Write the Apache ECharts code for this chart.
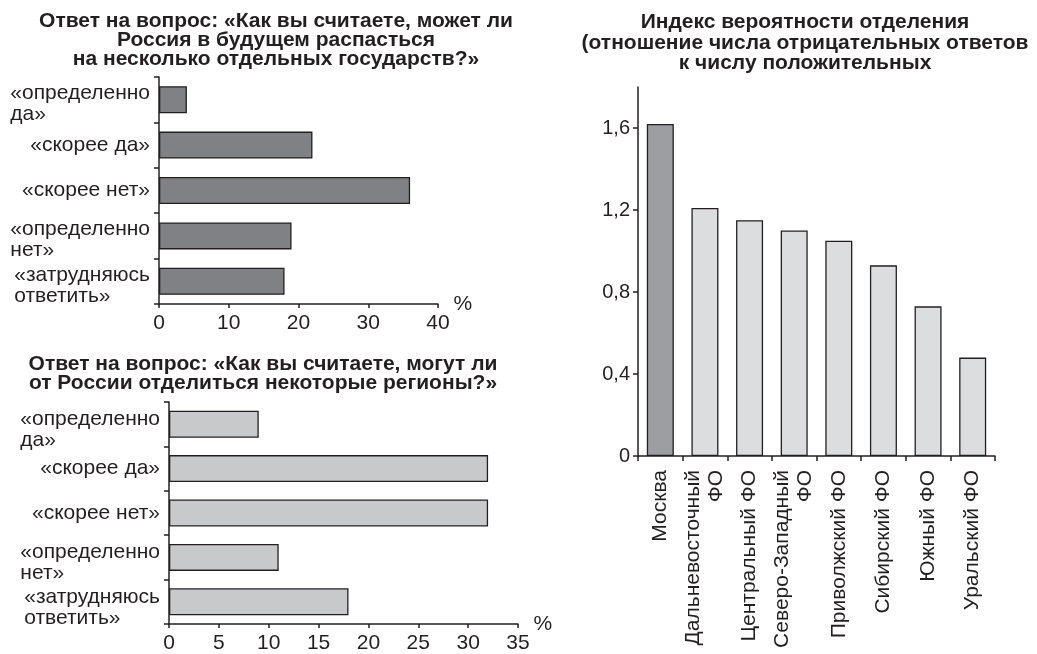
<!DOCTYPE html>
<html>
<head>
<meta charset="utf-8">
<script src="https://cdn.jsdelivr.net/npm/echarts@6/dist/echarts.min.js"></script>
<style>
  html, body { margin: 0; padding: 0; background: #ffffff; }
  #chart { width: 1037px; height: 654px; }
</style>
</head>
<body>
<div id="chart"></div>
<script>
// Survey answer options (shared by both horizontal bar charts)
const answerCategories = [
  '«определенно\nда»',
  '«скорее да»',
  '«скорее нет»',
  '«определенно\nнет»',
  '«затрудняюсь\nответить»'
];
// "Может ли Россия в будущем распасться..." — share of answers, %
const breakupShares = [4, 22, 36, 19, 18];
// "Могут ли от России отделиться некоторые регионы?" — share of answers, %
const secessionShares = [9, 32, 32, 11, 18];

const breakupTicks = [0, 10, 20, 30, 40];
const secessionTicks = [0, 5, 10, 15, 20, 25, 30, 35];

// Separation likelihood index by federal district
const districts = [
  'Москва',
  'Дальневосточный\nФО',
  'Центральный ФО',
  'Северо-Западный\nФО',
  'Приволжский ФО',
  'Сибирский ФО',
  'Южный ФО',
  'Уральский ФО'
];
const separationIndex = [1.62, 1.21, 1.15, 1.10, 1.05, 0.93, 0.73, 0.48];
const indexTicks = [0, 0.4, 0.8, 1.2, 1.6];
const indexTickLabels = ['0', '0,4', '0,8', '1,2', '1,6'];

const INK = '#231f20';
const FONT = '"Liberation Sans", Arial, Helvetica, sans-serif';

const chart = echarts.init(document.getElementById('chart'));

// multi-line answer labels keep their lines flush left inside the block;
// a thin spacer line on top lets the two-line pair sit slightly low
function answerLabel(value) {
  if (value.indexOf('\n') < 0) return value;
  return '{s| }\n' + value.split('\n').map(s => '{m|' + s + '}').join('\n');
}

const axisLineStyle = { show: true, lineStyle: { color: INK, width: 1.5 } };
const tickStyle = (len) => ({ show: true, length: len, lineStyle: { color: INK, width: 1.5 } });

function categoryAxisY(gridIndex, spacer) {
  return {
    type: 'category',
    gridIndex: gridIndex,
    data: answerCategories,
    inverse: true,
    axisLine: axisLineStyle,
    axisTick: tickStyle(5),
    axisLabel: {
      interval: 0,
      margin: 9,
      fontFamily: FONT,
      fontSize: 21,
      lineHeight: 21,
      color: INK,
      align: 'right',
      formatter: answerLabel,
      rich: {
        m: { align: 'left', fontFamily: FONT, fontSize: 21, lineHeight: 21, color: INK },
        s: { fontSize: 4, lineHeight: spacer }
      }
    },
    splitLine: { show: false }
  };
}

function percentAxisX(gridIndex, ticks, interval, labelMargin, nameGap, namePad) {
  return {
    type: 'value',
    gridIndex: gridIndex,
    min: ticks[0],
    max: ticks[ticks.length - 1],
    interval: interval,
    name: '%',
    nameLocation: 'end',
    nameGap: nameGap,
    nameTextStyle: { fontFamily: FONT, fontSize: 21, color: INK, padding: namePad },
    axisLine: axisLineStyle,
    axisTick: tickStyle(4),
    axisLabel: { margin: labelMargin, fontFamily: FONT, fontSize: 21, color: INK },
    splitLine: { show: false }
  };
}

const titleStyle = { fontFamily: FONT, fontSize: 21, fontWeight: 'bold', color: INK, lineHeight: 19 };

const option = {
  backgroundColor: '#ffffff',
  animation: false,
  title: [
    {
      text: 'Ответ на вопрос: «Как вы считаете, может ли\nРоссия в будущем распасться\nна несколько отдельных государств?»',
      left: 276, top: 12, textAlign: 'center', padding: 0, textStyle: titleStyle
    },
    {
      text: 'Ответ на вопрос: «Как вы считаете, могут ли\nот России отделиться некоторые регионы?»',
      left: 263, top: 355, textAlign: 'center', padding: 0, textStyle: titleStyle
    },
    {
      text: 'Индекс вероятности отделения\n(отношение числа отрицательных ответов\nк числу положительных',
      left: 805, top: 12, textAlign: 'center', padding: 0,
      textStyle: Object.assign({}, titleStyle, { lineHeight: 20.5 })
    }
  ],
  grid: [
    { left: 159, top: 77, width: 279, height: 227 },
    { left: 169, top: 402, width: 349, height: 228 },
    { left: 638, top: 87, width: 357, height: 369 }
  ],
  xAxis: [
    percentAxisX(0, breakupTicks, 10, 9, 13, [0, 0, 0, 0]),
    percentAxisX(1, secessionTicks, 5, 9, 9, [0, 0, 8, 0]),
    {
      type: 'category',
      gridIndex: 2,
      data: districts,
      axisLine: axisLineStyle,
      axisTick: tickStyle(5),
      axisLabel: {
        interval: 0,
        rotate: 90,
        margin: 14,
        fontFamily: FONT,
        fontSize: 21,
        lineHeight: 23,
        color: INK
      },
      splitLine: { show: false }
    }
  ],
  yAxis: [
    categoryAxisY(0, 8),
    categoryAxisY(1, 11),
    {
      type: 'value',
      gridIndex: 2,
      min: indexTicks[0],
      max: 1.8,
      interval: 0.4,
      axisLine: axisLineStyle,
      axisTick: tickStyle(5),
      axisLabel: {
        margin: 8,
        fontFamily: FONT,
        fontSize: 20,
        color: INK,
        showMaxLabel: false,
        formatter: (v) => {
          const i = indexTicks.findIndex(t => Math.abs(t - v) < 1e-6);
          return i >= 0 ? indexTickLabels[i] : '';
        }
      },
      splitLine: { show: false }
    }
  ],
  series: [
    {
      type: 'bar',
      xAxisIndex: 0, yAxisIndex: 0,
      data: breakupShares,
      barWidth: 27,
      itemStyle: { color: '#808184', borderColor: INK, borderWidth: 1.3 }
    },
    {
      type: 'bar',
      xAxisIndex: 1, yAxisIndex: 1,
      data: secessionShares,
      barWidth: 27,
      itemStyle: { color: '#c8c9cb', borderColor: INK, borderWidth: 1.3 }
    },
    {
      type: 'bar',
      xAxisIndex: 2, yAxisIndex: 2,
      data: separationIndex,
      barWidth: 27,
      itemStyle: {
        color: (p) => (p.name === 'Москва' ? '#9d9ea2' : '#dcdddf'),
        borderColor: INK,
        borderWidth: 1.3
      }
    }
  ]
};

chart.setOption(option);
</script>
</body>
</html>
